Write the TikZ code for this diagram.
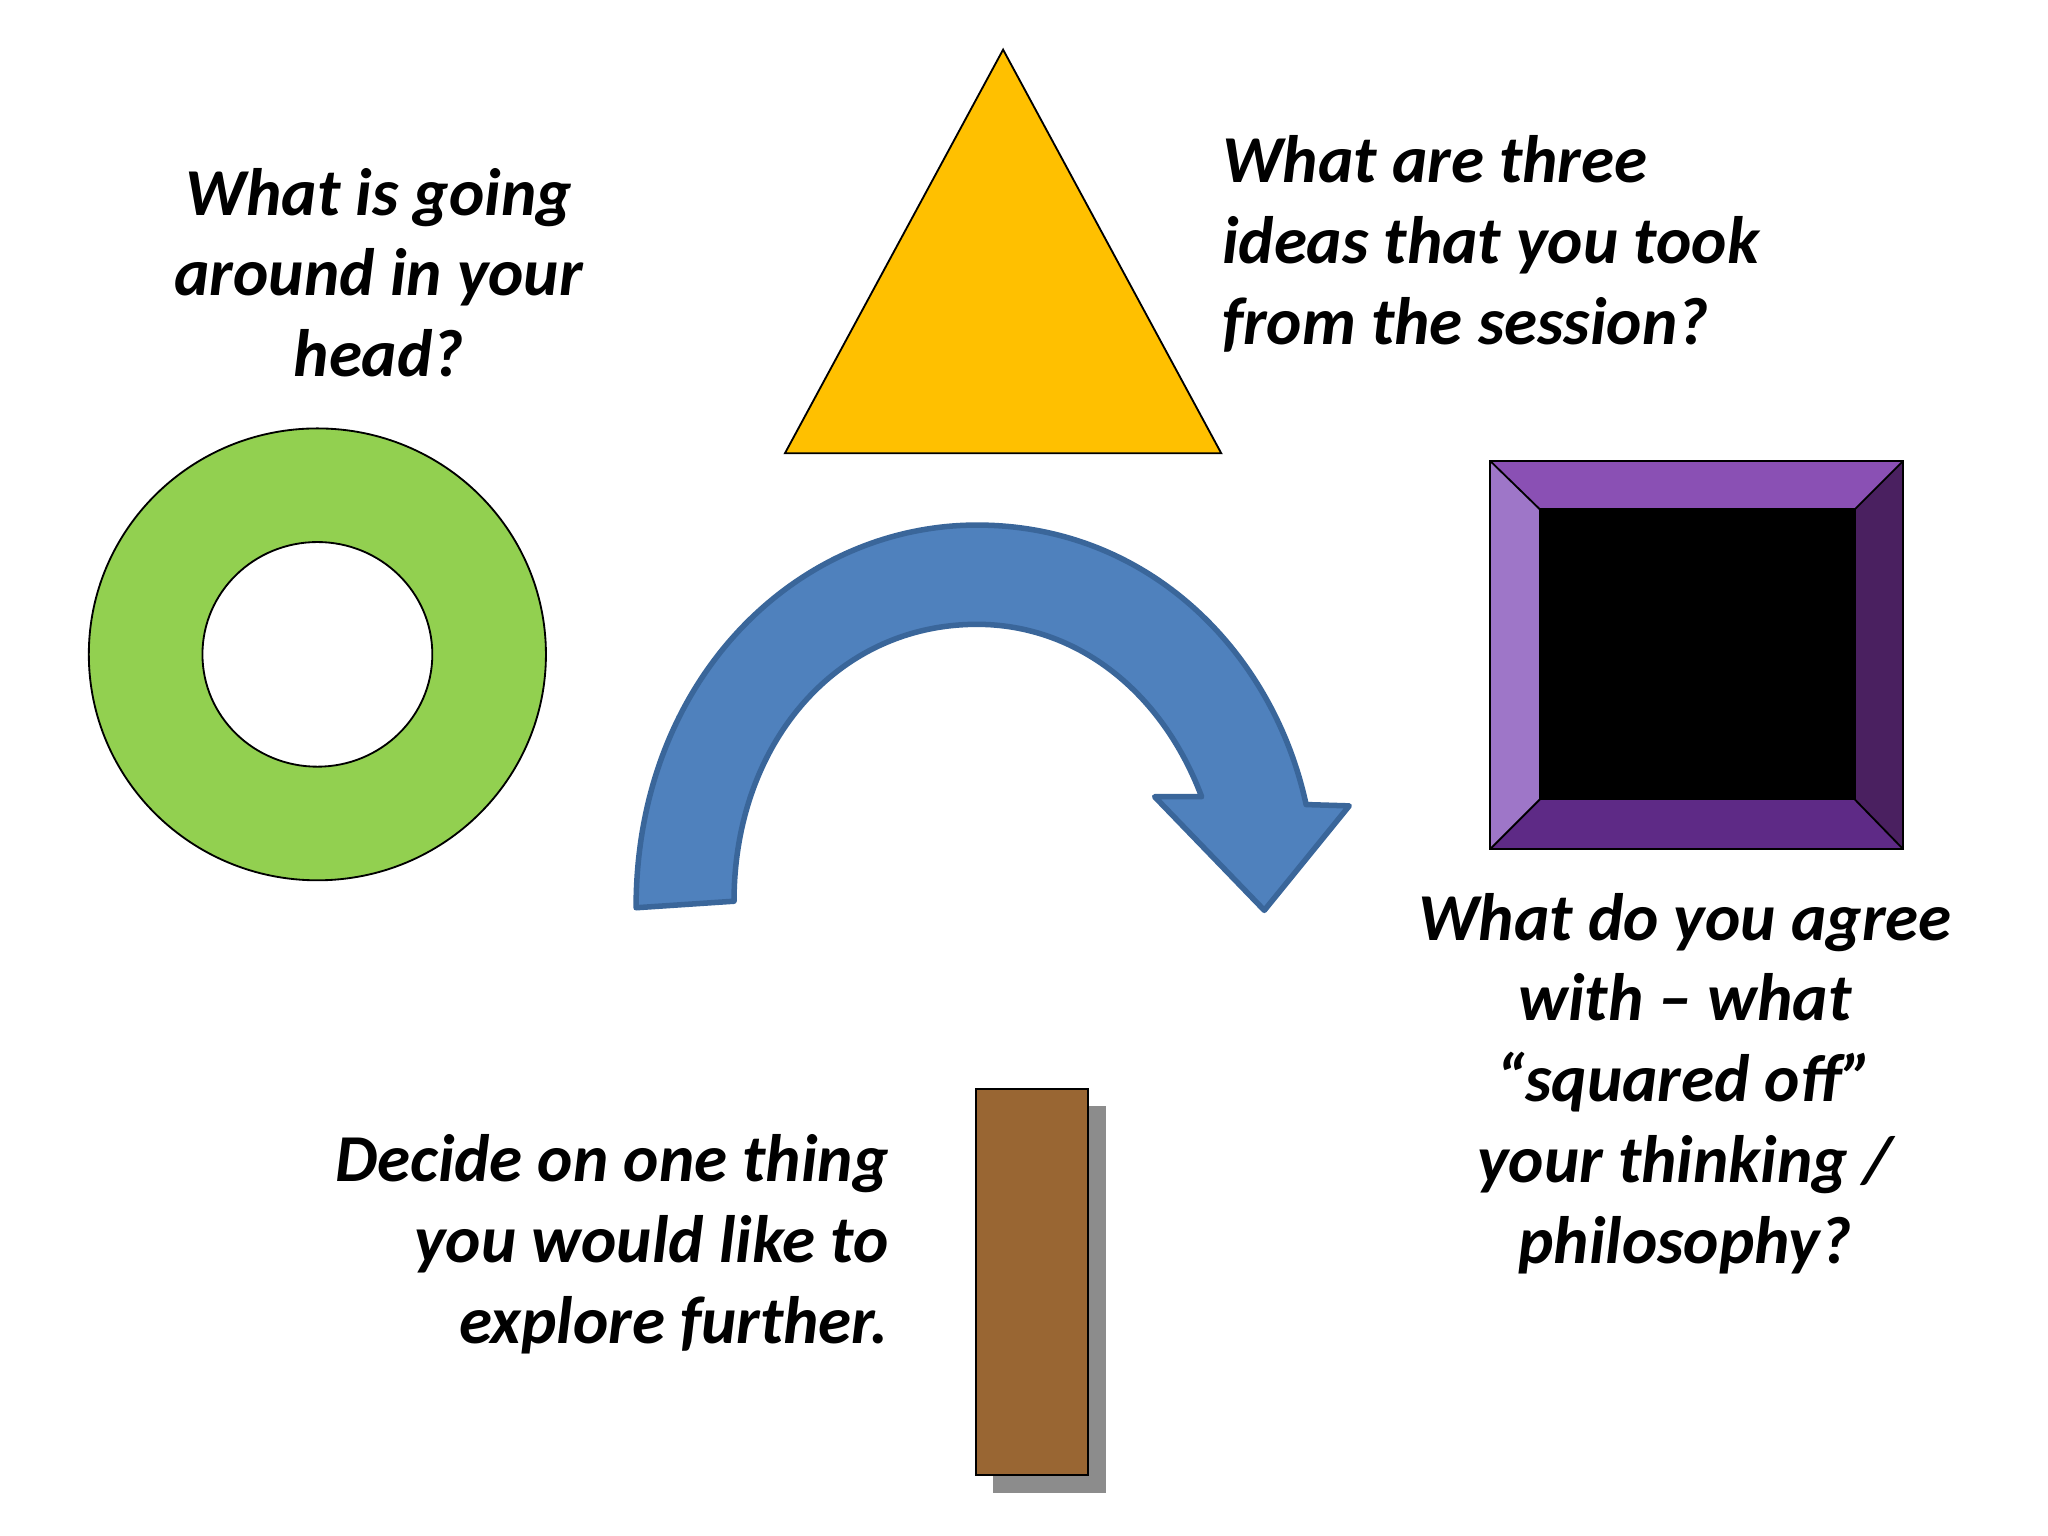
\documentclass[tikz,border=0pt]{standalone}
\usepackage{fontspec}
\setmainfont{Carlito}
\begin{document}
\begin{tikzpicture}[x=0.01cm,y=-0.01cm,
  txt/.style={font=\fontsize{14.6pt}{17.6pt}\selectfont\bfseries\itshape, inner sep=0pt}]
\definecolor{grn}{HTML}{92D050}\definecolor{ylw}{HTML}{FFC000}
\definecolor{pin}{HTML}{7030A0}\definecolor{ptop}{HTML}{8A50B4}
\definecolor{pleft}{HTML}{9E76C8}\definecolor{pright}{HTML}{4A2060}
\definecolor{pbot}{HTML}{5E2A86}\definecolor{brn}{HTML}{996633}
\definecolor{blu}{HTML}{4F81BD}\definecolor{bld}{HTML}{3A669A}
\useasboundingbox (0,0) rectangle (1568,1176);
% ring
\path[draw=black,fill=grn,even odd rule] (243,501) ellipse [x radius=175,y radius=173] (243,501) ellipse [x radius=88,y radius=86];
% triangle
\draw[fill=ylw] (768,38) -- (601,347) -- (935,347) -- cycle;
% bevel square
\fill[ptop] (1141,353) -- (1457,353) -- (1420,390) -- (1179,390) -- cycle;
\fill[pleft] (1141,353) -- (1179,390) -- (1179,612) -- (1141,650) -- cycle;
\fill[pright] (1457,353) -- (1457,650) -- (1420,612) -- (1420,390) -- cycle;
\fill[pbot] (1141,650) -- (1179,612) -- (1420,612) -- (1457,650) -- cycle;
\fill[pin] (1179,390) rectangle (1420,612);
\draw (1141,353) rectangle (1457,650) (1179,390) rectangle (1420,612);
\draw (1141,353) -- (1179,390) (1457,353) -- (1420,390) (1141,650) -- (1179,612) (1457,650) -- (1420,612);
% brown bar with shadow
\fill[gray!90] (760,847) rectangle (847,1143);
\draw[fill=brn] (747,834) rectangle (833,1129);
% curved arrow
\draw[fill=blu,draw=bld,line width=1.2pt,line join=round]
 (487,695) .. controls (487,520) and (610,402) .. (748,402)
 .. controls (880,402) and (975,500) .. (1000,616)
 -- (1033,617) -- (968,697) -- (884,610) -- (920,610)
 .. controls (890,530) and (825,478) .. (748,478)
 .. controls (640,478) and (562,570) .. (562,690) -- cycle;
% texts
\node[txt,align=center,anchor=north] at (290,128) {What is going\\around in your\\head?};
\node[txt,align=left,anchor=north west] at (935,103) {What are three\\ideas that you took\\from the session?};
\node[txt,align=center,anchor=north] at (1290,683) {What do you agree\\with – what\\“squared off”\\your thinking /\\philosophy?};
\node[txt,align=right,anchor=north east] at (681,868) {Decide on one thing\\you would like to\\explore further.};
\end{tikzpicture}
\end{document}
